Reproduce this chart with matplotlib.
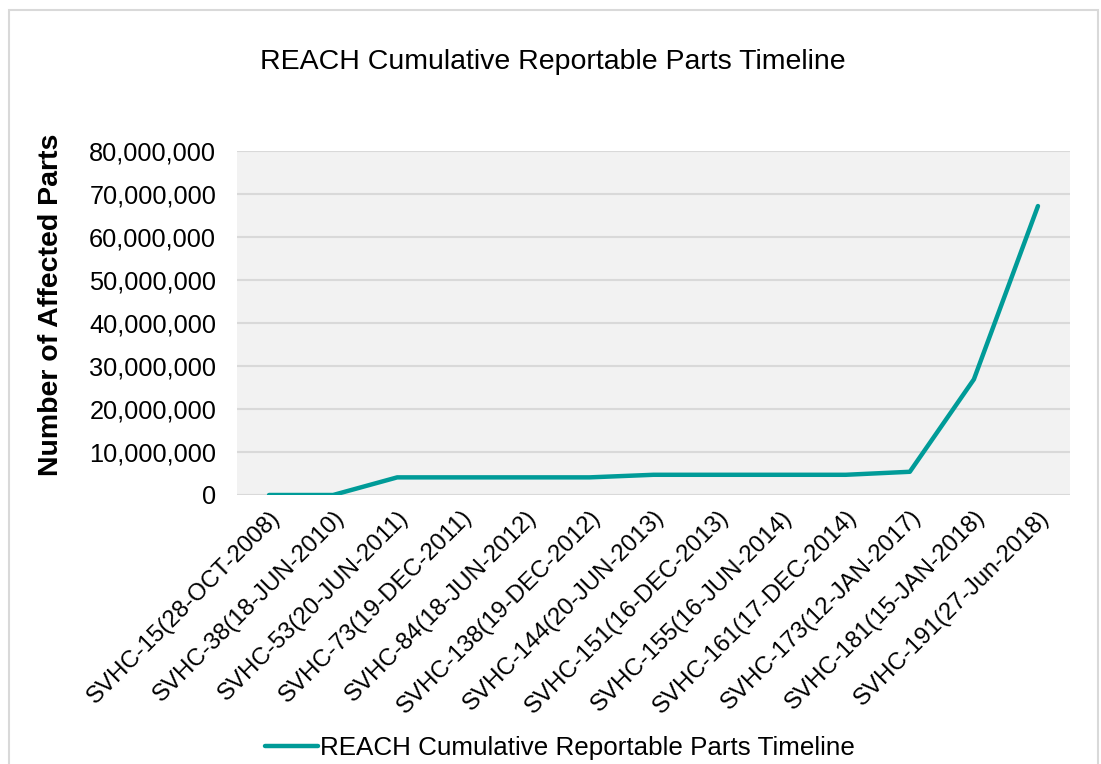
import matplotlib
matplotlib.use("Agg")
import matplotlib.pyplot as plt
from matplotlib.patches import Rectangle
from matplotlib.ticker import FuncFormatter, MultipleLocator

plt.rcParams['font.family'] = ['Liberation Sans', 'DejaVu Sans']

categories = [
    "SVHC-15(28-OCT-2008)", "SVHC-38(18-JUN-2010)", "SVHC-53(20-JUN-2011)",
    "SVHC-73(19-DEC-2011)", "SVHC-84(18-JUN-2012)", "SVHC-138(19-DEC-2012)",
    "SVHC-144(20-JUN-2013)", "SVHC-151(16-DEC-2013)", "SVHC-155(16-JUN-2014)",
    "SVHC-161(17-DEC-2014)", "SVHC-173(12-JAN-2017)", "SVHC-181(15-JAN-2018)",
    "SVHC-191(27-Jun-2018)",
]
parts = [
    0, 0, 4_100_000, 4_100_000, 4_100_000, 4_100_000, 4_700_000,
    4_700_000, 4_700_000, 4_700_000, 5_400_000, 26_900_000, 67_200_000,
]
series_name = "REACH Cumulative Reportable Parts Timeline"
title = "REACH Cumulative Reportable Parts Timeline"
y_label = "Number of Affected Parts"

line_color = "#009b98"
grid_color = "#d9d9d9"

fig = plt.figure(figsize=(11.01, 7.64), dpi=100)
ax = fig.add_axes([237 / 1101, 1 - 495 / 764, (1070 - 237) / 1101, (495 - 151) / 764])
ax.set_facecolor("#f2f2f2")

x = list(range(len(categories)))
ax.plot(x, parts, color=line_color, lw=3.2, solid_capstyle="round",
        solid_joinstyle="round", label=series_name, zorder=3)

ax.set_xlim(-0.5, len(categories) - 0.5)
ax.set_ylim(0, 80_000_000)
ax.yaxis.set_major_locator(MultipleLocator(10_000_000))
ax.yaxis.set_major_formatter(FuncFormatter(lambda v, p: f"{int(v):,}"))
ax.grid(axis="y", color=grid_color, lw=1.5, zorder=0)
ax.set_axisbelow(True)
for s in ax.spines.values():
    s.set_visible(False)
ax.tick_params(axis="both", length=0, labelsize=18.3)
ax.tick_params(axis="y", pad=15)

ax.set_xticks(x)
ax.set_xticklabels(categories, rotation=45, ha="right", va="top",
                   rotation_mode="anchor", fontsize=17.3)
ax.tick_params(axis="x", pad=8)

ax.set_ylabel(y_label, fontsize=20.5, fontweight="bold")
ax.yaxis.set_label_coords(-0.208, 0.552)

fig.text(553 / 1101, 1 - 62 / 764, title, ha="center", va="center", fontsize=20.5)

fig.legend(loc="center", bbox_to_anchor=(560 / 1101, 1 - 748 / 764), frameon=False,
           fontsize=18.7, handlelength=2.05, handletextpad=0.1)

fig.patches.append(Rectangle((9 / 1101, -0.02), (1098 - 9) / 1101, 1.02 - 10 / 764,
                             transform=fig.transFigure, fill=False,
                             edgecolor=grid_color, lw=1.5))

fig.savefig("out.png", dpi=100, facecolor="white")
